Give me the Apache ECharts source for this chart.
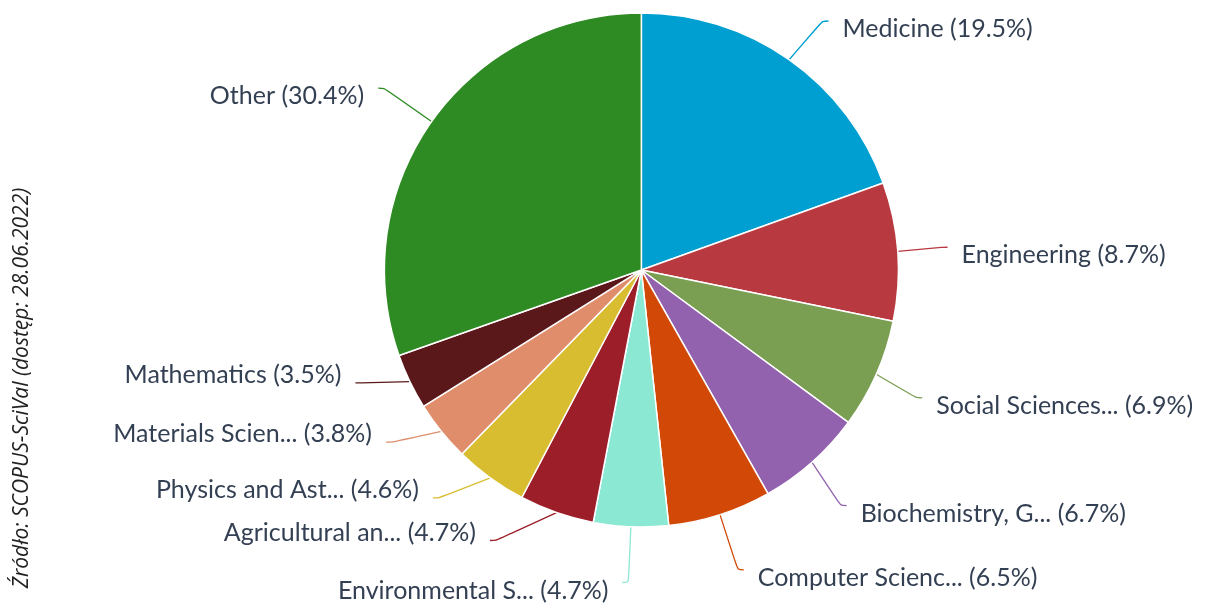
<!DOCTYPE html>
<html>
<head>
<meta charset="utf-8">
<script src="https://cdn.jsdelivr.net/npm/echarts@6/dist/echarts.min.js"></script>
<style>
html, body { margin: 0; padding: 0; background: #fff; }
#main { width: 1231px; height: 604px; }
</style>
</head>
<body>
<div id="main"></div>
<script>
var names = ['Medicine', 'Engineering', 'Social Sciences...', 'Biochemistry, G...', 'Computer Scienc...',
	'Environmental S...', 'Agricultural an...', 'Physics and Ast...', 'Materials Scien...', 'Mathematics', 'Other'];
var shares = [19.5, 8.7, 6.9, 6.7, 6.5, 4.7, 4.7, 4.6, 3.8, 3.5, 30.4];
var colors = ['#009fd1', '#b8393f', '#7a9e52', '#9262ae', '#d24806', '#8ae8d3', '#9b1e29', '#d9bd31', '#e08d6c', '#5b181b', '#2e8b23'];

var myChart = echarts.init(document.getElementById('main'));
var pieData = [];
for (var i = 0; i < names.length; i++) {
	pieData.push({ name: names[i], value: shares[i], itemStyle: { color: colors[i] } });
}
var option = {
	animation: false,
	graphic: [{
		type: 'text',
		rotation: Math.PI / 2,
		x: 22, y: 388,
		style: {
			text: 'Źródło: SCOPUS-SciVal (dostęp: 28.06.2022)',
			font: 'italic 21px "Open Sans"',
			fill: '#222',
			textAlign: 'center',
			textVerticalAlign: 'middle'
		}
	}],
	series: [{
		type: 'pie',
		center: ['52.1%', '44.7%'],
		radius: 257,
		startAngle: 90,
		data: pieData,
		itemStyle: { borderColor: '#fff', borderWidth: 1.5 },
		label: {
			// blank spacer line nudges the text below (or, lower-left group, above) the line end
			formatter: function(p) {
				var t = '{t|' + p.name + ' (' + p.value + '%)}';
				if (p.dataIndex >= 6 && p.dataIndex <= 9) return t + '\n{s| }';
				return '{s| }\n' + t;
			},
			color: '#333f52',
			fontFamily: 'Lato',
			fontSize: 25,
			rich: {
				s: { fontSize: 10, lineHeight: 16 },
				t: { fontFamily: 'Lato', fontSize: 25, color: '#333f52', lineHeight: 30 }
			},
			distanceToLabelLine: 14
		},
		labelLine: { length: 58, length2: 6, smooth: 0.3, lineStyle: { width: 1.3 } }
	}]
};
myChart.setOption(option);
</script>
</body>
</html>
